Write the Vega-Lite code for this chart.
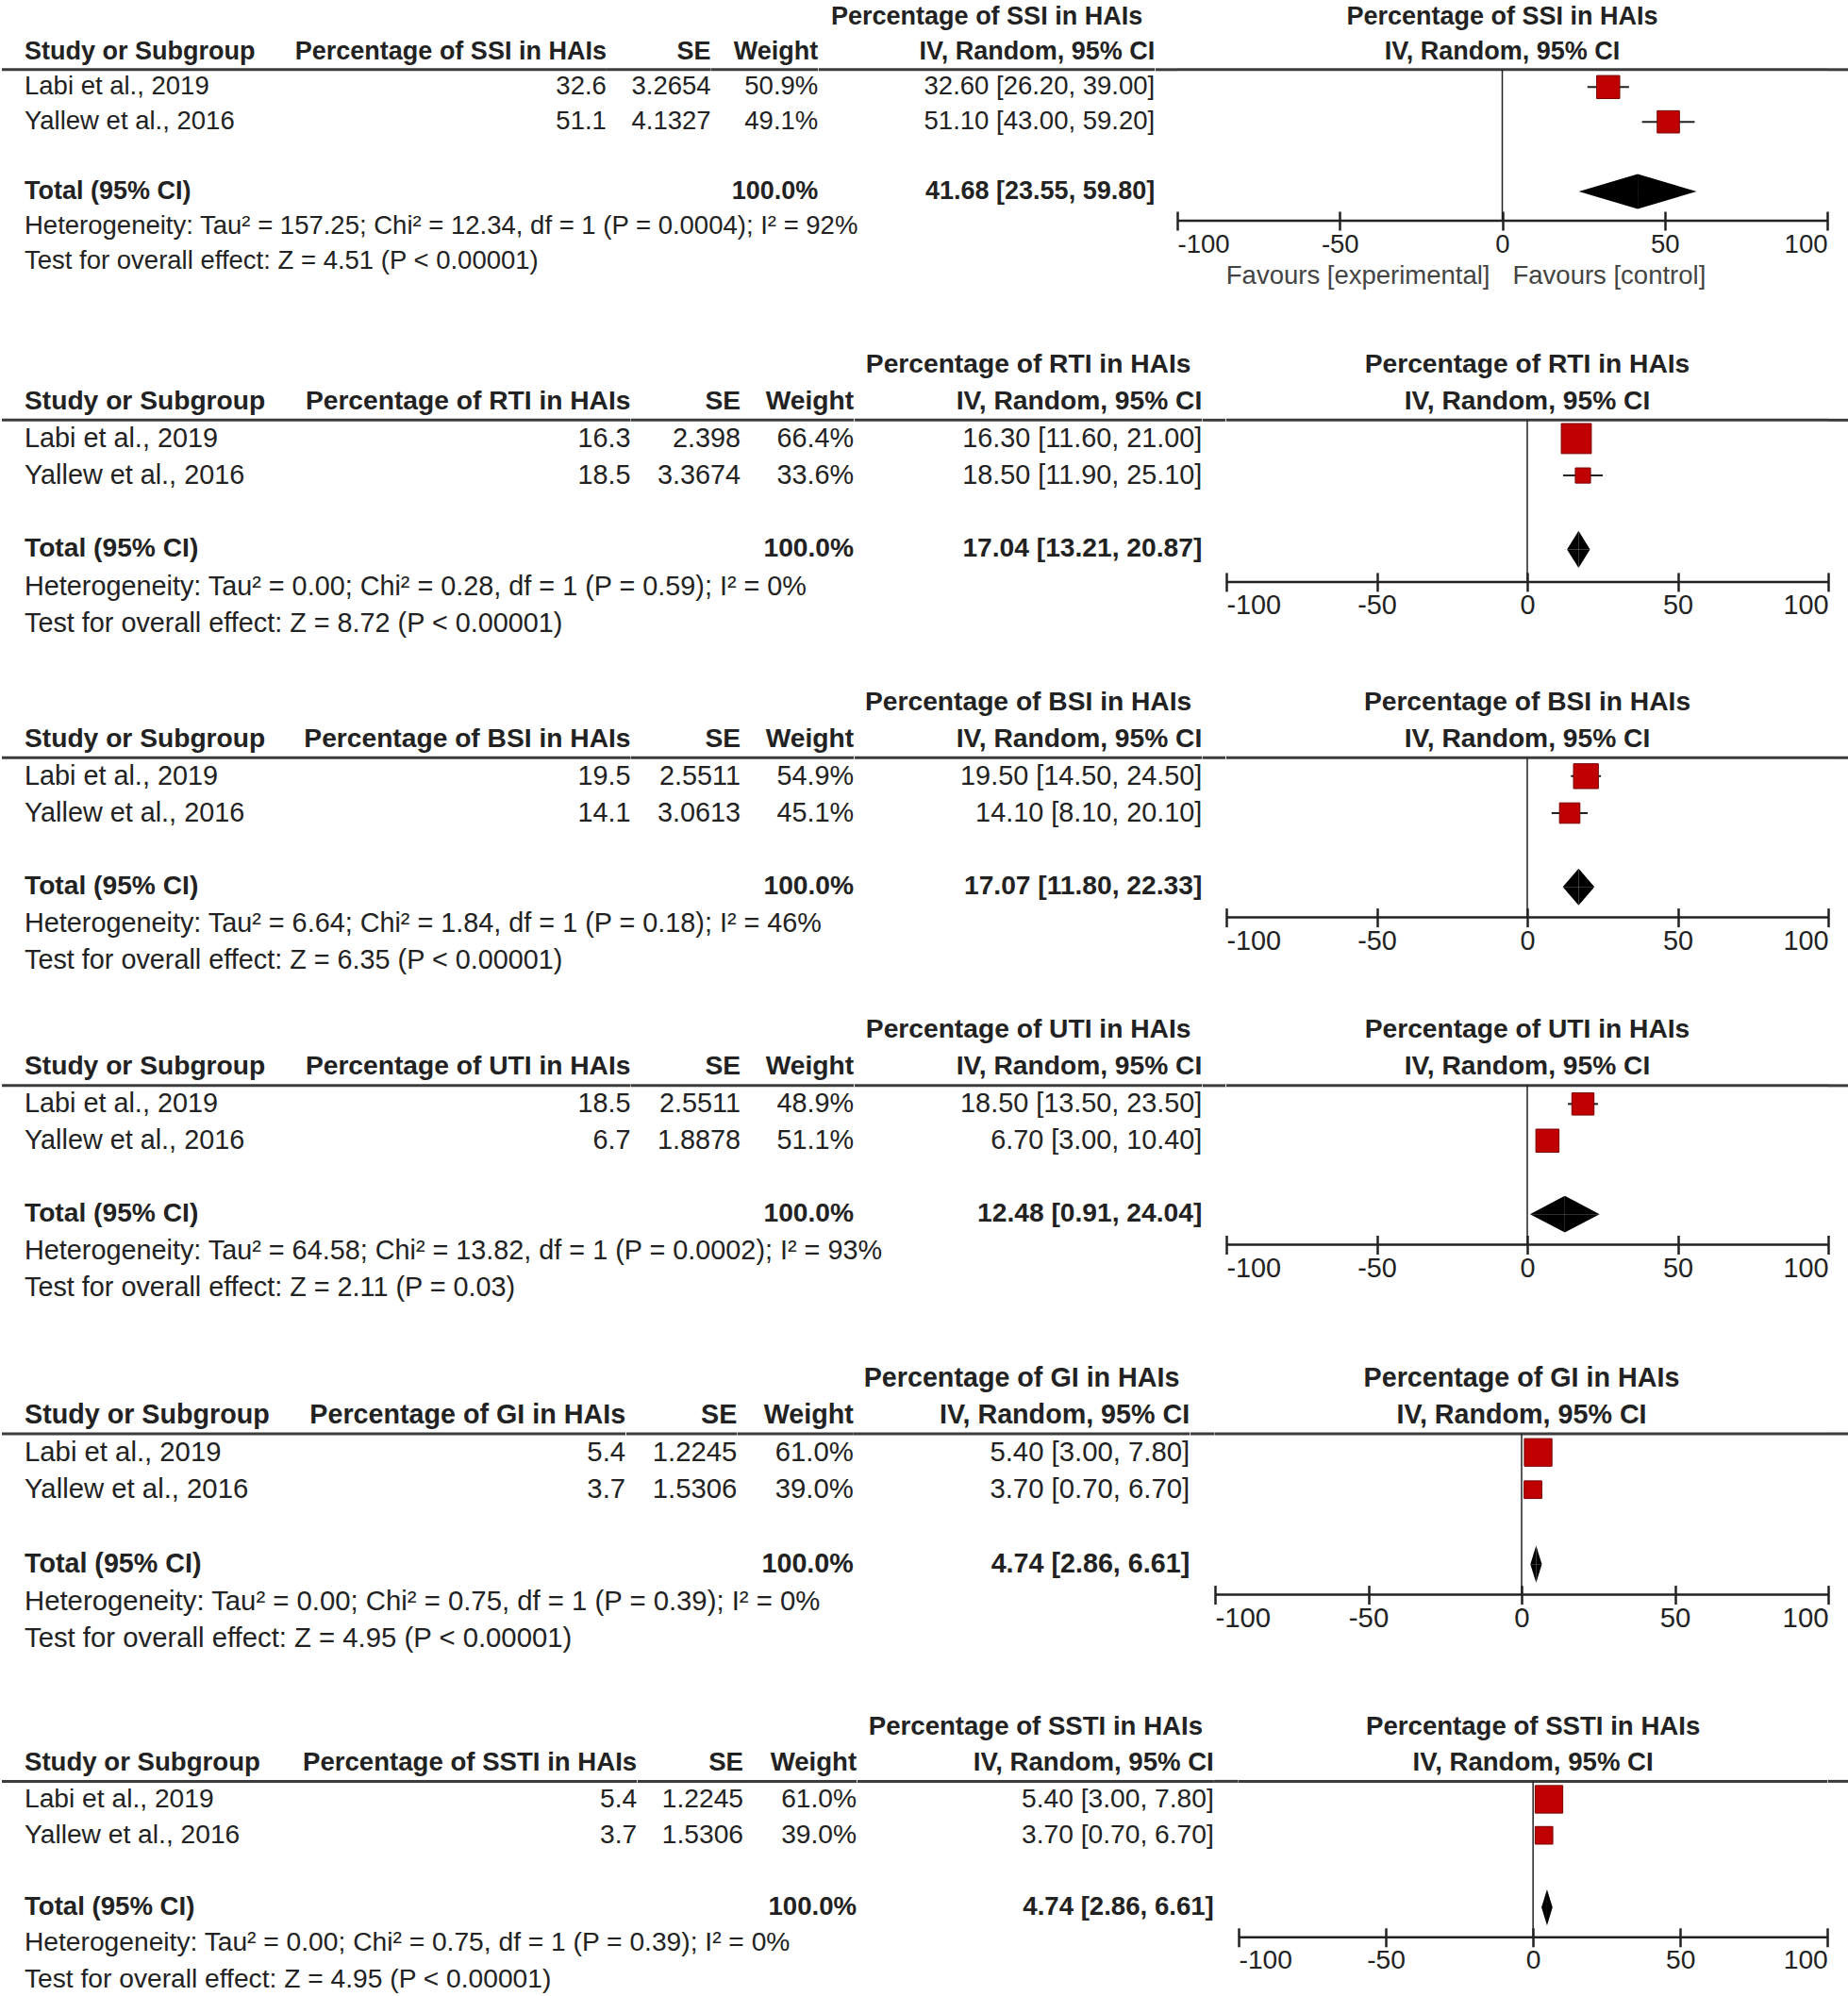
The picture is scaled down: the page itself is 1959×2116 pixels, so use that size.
{
"$schema":"https://vega.github.io/schema/vega-lite/v6.json",
"padding":0,"background":"white","spacing":0,"bounds":"full",
"config":{"view":{"stroke":null},
 "text":{"font":"Liberation Sans","fontSize":27.5,"color":"#222","baseline":"middle"},
 "axisX":{"tickCount":5,"labelFlush":true,"labelFont":"Liberation Sans","labelFontSize":27.5,"labelColor":"#222","domainColor":"#222","domainWidth":2.5,"tickColor":"#222","tickWidth":2.5,"tickSize":10,"labelPadding":1,"grid":false,"labelOverlap":false,"title":null}},
"datasets":{
"p1":[{"row":"h1","kind":"header","ci":"Percentage of SSI in HAIs"},{"row":"h2","kind":"header","study":"Study or Subgroup","value":"Percentage of SSI in HAIs","se":"SE","weight":"Weight","ci":"IV, Random, 95% CI"},{"row":"s1","kind":"study","study":"Labi et al., 2019","est":32.6,"se":3.2654,"w":0.509,"ci":"32.60 [26.20, 39.00]","lo":26.2,"hi":39.0},{"row":"s2","kind":"study","study":"Yallew et al., 2016","est":51.1,"se":4.1327,"w":0.491,"ci":"51.10 [43.00, 59.20]","lo":43.0,"hi":59.2},{"row":"total","kind":"total","study":"Total (95% CI)","w":1,"ci":"41.68 [23.55, 59.80]","est":41.68,"lo":23.55,"hi":59.8},{"row":"het","kind":"note","study":"Heterogeneity: Tau² = 157.25; Chi² = 12.34, df = 1 (P = 0.0004); I² = 92%"},{"row":"test","kind":"note","study":"Test for overall effect: Z = 4.51 (P < 0.00001)"}],
"p2":[{"row":"h1","kind":"header","ci":"Percentage of RTI in HAIs"},{"row":"h2","kind":"header","study":"Study or Subgroup","value":"Percentage of RTI in HAIs","se":"SE","weight":"Weight","ci":"IV, Random, 95% CI"},{"row":"s1","kind":"study","study":"Labi et al., 2019","est":16.3,"se":2.398,"w":0.664,"ci":"16.30 [11.60, 21.00]","lo":11.6,"hi":21.0},{"row":"s2","kind":"study","study":"Yallew et al., 2016","est":18.5,"se":3.3674,"w":0.336,"ci":"18.50 [11.90, 25.10]","lo":11.9,"hi":25.1},{"row":"total","kind":"total","study":"Total (95% CI)","w":1,"ci":"17.04 [13.21, 20.87]","est":17.04,"lo":13.21,"hi":20.87},{"row":"het","kind":"note","study":"Heterogeneity: Tau² = 0.00; Chi² = 0.28, df = 1 (P = 0.59); I² = 0%"},{"row":"test","kind":"note","study":"Test for overall effect: Z = 8.72 (P < 0.00001)"}],
"p3":[{"row":"h1","kind":"header","ci":"Percentage of BSI in HAIs"},{"row":"h2","kind":"header","study":"Study or Subgroup","value":"Percentage of BSI in HAIs","se":"SE","weight":"Weight","ci":"IV, Random, 95% CI"},{"row":"s1","kind":"study","study":"Labi et al., 2019","est":19.5,"se":2.5511,"w":0.549,"ci":"19.50 [14.50, 24.50]","lo":14.5,"hi":24.5},{"row":"s2","kind":"study","study":"Yallew et al., 2016","est":14.1,"se":3.0613,"w":0.451,"ci":"14.10 [8.10, 20.10]","lo":8.1,"hi":20.1},{"row":"total","kind":"total","study":"Total (95% CI)","w":1,"ci":"17.07 [11.80, 22.33]","est":17.07,"lo":11.8,"hi":22.33},{"row":"het","kind":"note","study":"Heterogeneity: Tau² = 6.64; Chi² = 1.84, df = 1 (P = 0.18); I² = 46%"},{"row":"test","kind":"note","study":"Test for overall effect: Z = 6.35 (P < 0.00001)"}],
"p4":[{"row":"h1","kind":"header","ci":"Percentage of UTI in HAIs"},{"row":"h2","kind":"header","study":"Study or Subgroup","value":"Percentage of UTI in HAIs","se":"SE","weight":"Weight","ci":"IV, Random, 95% CI"},{"row":"s1","kind":"study","study":"Labi et al., 2019","est":18.5,"se":2.5511,"w":0.489,"ci":"18.50 [13.50, 23.50]","lo":13.5,"hi":23.5},{"row":"s2","kind":"study","study":"Yallew et al., 2016","est":6.7,"se":1.8878,"w":0.511,"ci":"6.70 [3.00, 10.40]","lo":3.0,"hi":10.4},{"row":"total","kind":"total","study":"Total (95% CI)","w":1,"ci":"12.48 [0.91, 24.04]","est":12.48,"lo":0.91,"hi":24.04},{"row":"het","kind":"note","study":"Heterogeneity: Tau² = 64.58; Chi² = 13.82, df = 1 (P = 0.0002); I² = 93%"},{"row":"test","kind":"note","study":"Test for overall effect: Z = 2.11 (P = 0.03)"}],
"p5":[{"row":"h1","kind":"header","ci":"Percentage of GI in HAIs"},{"row":"h2","kind":"header","study":"Study or Subgroup","value":"Percentage of GI in HAIs","se":"SE","weight":"Weight","ci":"IV, Random, 95% CI"},{"row":"s1","kind":"study","study":"Labi et al., 2019","est":5.4,"se":1.2245,"w":0.61,"ci":"5.40 [3.00, 7.80]","lo":3.0,"hi":7.8},{"row":"s2","kind":"study","study":"Yallew et al., 2016","est":3.7,"se":1.5306,"w":0.39,"ci":"3.70 [0.70, 6.70]","lo":0.7,"hi":6.7},{"row":"total","kind":"total","study":"Total (95% CI)","w":1,"ci":"4.74 [2.86, 6.61]","est":4.74,"lo":2.86,"hi":6.61},{"row":"het","kind":"note","study":"Heterogeneity: Tau² = 0.00; Chi² = 0.75, df = 1 (P = 0.39); I² = 0%"},{"row":"test","kind":"note","study":"Test for overall effect: Z = 4.95 (P < 0.00001)"}],
"p6":[{"row":"h1","kind":"header","ci":"Percentage of SSTI in HAIs"},{"row":"h2","kind":"header","study":"Study or Subgroup","value":"Percentage of SSTI in HAIs","se":"SE","weight":"Weight","ci":"IV, Random, 95% CI"},{"row":"s1","kind":"study","study":"Labi et al., 2019","est":5.4,"se":1.2245,"w":0.61,"ci":"5.40 [3.00, 7.80]","lo":3.0,"hi":7.8},{"row":"s2","kind":"study","study":"Yallew et al., 2016","est":3.7,"se":1.5306,"w":0.39,"ci":"3.70 [0.70, 6.70]","lo":0.7,"hi":6.7},{"row":"total","kind":"total","study":"Total (95% CI)","w":1,"ci":"4.74 [2.86, 6.61]","est":4.74,"lo":2.86,"hi":6.61},{"row":"het","kind":"note","study":"Heterogeneity: Tau² = 0.00; Chi² = 0.75, df = 1 (P = 0.39); I² = 0%"},{"row":"test","kind":"note","study":"Test for overall effect: Z = 4.95 (P < 0.00001)"}]
},
"vconcat":[
{"spacing":0,"bounds":"flush","hconcat":[
 {"width":300,"height":366.67,"data":{"name":"p1"},"encoding":{"y":{"field":"row","type":"nominal","scale":{"type":"band","domain":["h1","h2","s1","s2","gap","total","het","test"],"paddingInner":0,"paddingOuter":0.967,"align":0},"axis":null}},"layer":[
  {"transform":[{"filter":"datum.row === 's1'"}],"mark":{"type":"rule","color":"#3c3c3c","strokeWidth":3},"encoding":{"y":{"field":"row","type":"nominal","bandPosition":0,"scale":{"type":"band","domain":["h1","h2","s1","s2","gap","total","het","test"],"paddingInner":0,"paddingOuter":0.967,"align":0},"axis":null}}},
  {"transform":[{"filter":"datum.kind === 'study' || datum.kind === 'note'"}],"mark":{"type":"text","align":"left","dx":24,"fontSize":27.5},"encoding":{"x":{"value":0},"text":{"field":"study","type":"nominal"}}},
  {"transform":[{"filter":"datum.study != null && (datum.kind === 'header' || datum.kind === 'total')"}],"mark":{"type":"text","align":"left","dx":24,"fontWeight":"bold","fontSize":27},"encoding":{"x":{"value":0},"text":{"field":"study","type":"nominal"}}}]},
 {"width":340.9,"height":366.67,"data":{"name":"p1"},"encoding":{"y":{"field":"row","type":"nominal","scale":{"type":"band","domain":["h1","h2","s1","s2","gap","total","het","test"],"paddingInner":0,"paddingOuter":0.967,"align":0},"axis":null}},"layer":[
  {"transform":[{"filter":"datum.row === 's1'"}],"mark":{"type":"rule","color":"#3c3c3c","strokeWidth":3},"encoding":{"y":{"field":"row","type":"nominal","bandPosition":0,"scale":{"type":"band","domain":["h1","h2","s1","s2","gap","total","het","test"],"paddingInner":0,"paddingOuter":0.967,"align":0},"axis":null}}},
  {"transform":[{"filter":"datum.kind === 'study'"}],"mark":{"type":"text","align":"right","fontSize":27.5},"encoding":{"x":{"value":"width"},"text":{"field":"est","type":"quantitative","format":".1f"}}},
  {"transform":[{"filter":"datum.row === 'h2'"}],"mark":{"type":"text","align":"right","fontWeight":"bold","fontSize":27},"encoding":{"x":{"value":"width"},"text":{"field":"value","type":"nominal"}}}]},
 {"width":110.6,"height":366.67,"data":{"name":"p1"},"encoding":{"y":{"field":"row","type":"nominal","scale":{"type":"band","domain":["h1","h2","s1","s2","gap","total","het","test"],"paddingInner":0,"paddingOuter":0.967,"align":0},"axis":null}},"layer":[
  {"transform":[{"filter":"datum.row === 's1'"}],"mark":{"type":"rule","color":"#3c3c3c","strokeWidth":3},"encoding":{"y":{"field":"row","type":"nominal","bandPosition":0,"scale":{"type":"band","domain":["h1","h2","s1","s2","gap","total","het","test"],"paddingInner":0,"paddingOuter":0.967,"align":0},"axis":null}}},
  {"transform":[{"filter":"datum.kind === 'study'"}],"mark":{"type":"text","align":"right","fontSize":27.5},"encoding":{"x":{"value":"width"},"text":{"field":"se","type":"nominal"}}},
  {"transform":[{"filter":"datum.row === 'h2'"}],"mark":{"type":"text","align":"right","fontWeight":"bold","fontSize":27},"encoding":{"x":{"value":"width"},"text":{"field":"se","type":"nominal"}}}]},
 {"width":113.3,"height":366.67,"data":{"name":"p1"},"encoding":{"y":{"field":"row","type":"nominal","scale":{"type":"band","domain":["h1","h2","s1","s2","gap","total","het","test"],"paddingInner":0,"paddingOuter":0.967,"align":0},"axis":null}},"layer":[
  {"transform":[{"filter":"datum.row === 's1'"}],"mark":{"type":"rule","color":"#3c3c3c","strokeWidth":3},"encoding":{"y":{"field":"row","type":"nominal","bandPosition":0,"scale":{"type":"band","domain":["h1","h2","s1","s2","gap","total","het","test"],"paddingInner":0,"paddingOuter":0.967,"align":0},"axis":null}}},
  {"transform":[{"filter":"datum.kind === 'study'"}],"mark":{"type":"text","align":"right","fontSize":27.5},"encoding":{"x":{"value":"width"},"text":{"field":"w","type":"quantitative","format":".1%"}}},
  {"transform":[{"filter":"datum.row === 'h2'"}],"mark":{"type":"text","align":"right","fontWeight":"bold","fontSize":27},"encoding":{"x":{"value":"width"},"text":{"field":"weight","type":"nominal"}}},
  {"transform":[{"filter":"datum.kind === 'total'"}],"mark":{"type":"text","align":"right","fontWeight":"bold","fontSize":27},"encoding":{"x":{"value":"width"},"text":{"field":"w","type":"quantitative","format":".1%"}}}]},
 {"width":356.2,"height":366.67,"data":{"name":"p1"},"encoding":{"y":{"field":"row","type":"nominal","scale":{"type":"band","domain":["h1","h2","s1","s2","gap","total","het","test"],"paddingInner":0,"paddingOuter":0.967,"align":0},"axis":null}},"layer":[
  {"transform":[{"filter":"datum.row === 's1'"}],"mark":{"type":"rule","color":"#3c3c3c","strokeWidth":3},"encoding":{"y":{"field":"row","type":"nominal","bandPosition":0,"scale":{"type":"band","domain":["h1","h2","s1","s2","gap","total","het","test"],"paddingInner":0,"paddingOuter":0.967,"align":0},"axis":null}}},
  {"transform":[{"filter":"datum.kind === 'study'"}],"mark":{"type":"text","align":"right","fontSize":27.5},"encoding":{"x":{"value":"width"},"text":{"field":"ci","type":"nominal"}}},
  {"transform":[{"filter":"datum.row === 'h2' || datum.kind === 'total'"}],"mark":{"type":"text","align":"right","fontWeight":"bold","fontSize":27},"encoding":{"x":{"value":"width"},"text":{"field":"ci","type":"nominal"}}},
  {"transform":[{"filter":"datum.row === 'h1'"}],"mark":{"type":"text","align":"center","fontWeight":"bold","fontSize":27},"encoding":{"text":{"field":"ci","type":"nominal"}}}]},
 {"width":23,"height":366.67,"data":{"name":"p1"},"transform":[{"filter":"datum.row === 's1'"}],"mark":{"type":"rule","color":"#3c3c3c","strokeWidth":3},"encoding":{"y":{"field":"row","type":"nominal","bandPosition":0,"scale":{"type":"band","domain":["h1","h2","s1","s2","gap","total","het","test"],"paddingInner":0,"paddingOuter":0.967,"align":0},"axis":null}}},
 {"width":689,"height":234.0,"data":{"name":"p1"},"resolve":{"scale":{"yOffset":"independent"}},"encoding":{"y":{"field":"row","type":"nominal","scale":{"type":"band","domain":["h1","h2","s1","s2","gap","total"],"paddingInner":0,"paddingOuter":0.17,"align":0},"axis":null}},"layer":[
  {"transform":[{"filter":"datum.row === 's1'"}],"mark":{"type":"rule","color":"#3c3c3c","strokeWidth":3},"encoding":{"y":{"field":"row","type":"nominal","bandPosition":0}}},
  {"transform":[{"filter":"datum.row === 's1'"}],"mark":{"type":"rule","color":"#222","strokeWidth":1.5},"encoding":{"x":{"datum":0,"type":"quantitative","scale":{"domain":[-100,100],"nice":false},"axis":{"labelExpr":"replace(datum.label, '−', '-')","labelFontSize":27.5,"domain":false,"offset":-10,"tickSize":20}},"y":{"field":"row","type":"nominal","bandPosition":0},"y2":{"value":"height"}}},
  {"transform":[{"filter":"datum.row === 's1'"}],"mark":{"type":"rule","color":"#222","strokeWidth":2.5},"encoding":{"x":{"datum":-100,"type":"quantitative"},"x2":{"datum":100},"y":{"value":"height"}}},
  {"transform":[{"filter":"datum.kind === 'study'"}],"mark":{"type":"rule","color":"#222","strokeWidth":2},"encoding":{"x":{"field":"lo","type":"quantitative","title":null},"x2":{"field":"hi"}}},
  {"transform":[{"filter":"datum.kind === 'study'"}],"mark":{"type":"point","shape":"square","filled":true,"color":"#c00000","stroke":"#7a0000","strokeWidth":1,"opacity":1},"encoding":{"x":{"field":"est","type":"quantitative","title":null},"size":{"field":"w","type":"quantitative","scale":{"type":"pow","exponent":2,"domain":[0,1],"range":[0,2300]},"legend":null}}},
  {"transform":[{"filter":"datum.kind === 'total'"},{"fold":["lo","est"],"as":["key","v"]}],"mark":{"type":"area","color":"#000","opacity":1},"encoding":{"x":{"field":"v","type":"quantitative","title":null},"yOffset":{"field":"key","type":"nominal","scale":{"domain":["est","lo","hi"],"paddingInner":0.5,"paddingOuter":0}},"y2":{"field":"row"}}},
  {"transform":[{"filter":"datum.kind === 'total'"},{"fold":["est","hi"],"as":["key","v"]}],"mark":{"type":"area","color":"#000","opacity":1},"encoding":{"x":{"field":"v","type":"quantitative","title":null},"yOffset":{"field":"key","type":"nominal","scale":{"domain":["est","hi","lo"],"paddingInner":0.5,"paddingOuter":0}},"y2":{"field":"row"}}},
  {"transform":[{"filter":"datum.kind === 'total'"},{"fold":["lo","est"],"as":["key","v"]}],"mark":{"type":"area","color":"#000","opacity":1},"encoding":{"x":{"field":"v","type":"quantitative","title":null},"yOffset":{"field":"key","type":"nominal","scale":{"domain":["hi","lo","est"],"paddingInner":0.5,"paddingOuter":0}},"y2":{"field":"row"}}},
  {"transform":[{"filter":"datum.kind === 'total'"},{"fold":["est","hi"],"as":["key","v"]}],"mark":{"type":"area","color":"#000","opacity":1},"encoding":{"x":{"field":"v","type":"quantitative","title":null},"yOffset":{"field":"key","type":"nominal","scale":{"domain":["lo","hi","est"],"paddingInner":0.5,"paddingOuter":0}},"y2":{"field":"row"}}},
  {"transform":[{"filter":"datum.kind === 'header'"}],"mark":{"type":"text","fontWeight":"bold","fontSize":27},"encoding":{"text":{"field":"ci","type":"nominal"}}},
  {"data":{"values":[{"label":"Favours [experimental]"}]},"mark":{"type":"text","align":"right","dx":-13,"dy":59,"color":"#444","fontSize":27.5},"encoding":{"x":{"datum":0,"type":"quantitative"},"y":{"value":"height"},"text":{"field":"label","type":"nominal"}}},
  {"data":{"values":[{"label":"Favours [control]"}]},"mark":{"type":"text","align":"left","dx":11,"dy":59,"color":"#444","fontSize":27.5},"encoding":{"x":{"datum":0,"type":"quantitative"},"y":{"value":"height"},"text":{"field":"label","type":"nominal"}}}]},
 {"width":26,"height":366.67,"data":{"name":"p1"},"transform":[{"filter":"datum.row === 's1'"}],"mark":{"type":"rule","color":"#3c3c3c","strokeWidth":3},"encoding":{"y":{"field":"row","type":"nominal","bandPosition":0,"scale":{"type":"band","domain":["h1","h2","s1","s2","gap","total","het","test"],"paddingInner":0,"paddingOuter":0.967,"align":0},"axis":null}}}
]},
{"spacing":0,"bounds":"flush","hconcat":[
 {"width":300,"height":357.16,"data":{"name":"p2"},"encoding":{"y":{"field":"row","type":"nominal","scale":{"type":"band","domain":["h1","h2","s1","s2","gap","total","het","test"],"paddingInner":0,"paddingOuter":0.558,"align":0},"axis":null}},"layer":[
  {"transform":[{"filter":"datum.row === 's1'"}],"mark":{"type":"rule","color":"#3c3c3c","strokeWidth":3},"encoding":{"y":{"field":"row","type":"nominal","bandPosition":0,"scale":{"type":"band","domain":["h1","h2","s1","s2","gap","total","het","test"],"paddingInner":0,"paddingOuter":0.558,"align":0},"axis":null}}},
  {"transform":[{"filter":"datum.kind === 'study' || datum.kind === 'note'"}],"mark":{"type":"text","align":"left","dx":24,"fontSize":28.8},"encoding":{"x":{"value":0},"text":{"field":"study","type":"nominal"}}},
  {"transform":[{"filter":"datum.study != null && (datum.kind === 'header' || datum.kind === 'total')"}],"mark":{"type":"text","align":"left","dx":24,"fontWeight":"bold","fontSize":28.2},"encoding":{"x":{"value":0},"text":{"field":"study","type":"nominal"}}}]},
 {"width":366.5,"height":357.16,"data":{"name":"p2"},"encoding":{"y":{"field":"row","type":"nominal","scale":{"type":"band","domain":["h1","h2","s1","s2","gap","total","het","test"],"paddingInner":0,"paddingOuter":0.558,"align":0},"axis":null}},"layer":[
  {"transform":[{"filter":"datum.row === 's1'"}],"mark":{"type":"rule","color":"#3c3c3c","strokeWidth":3},"encoding":{"y":{"field":"row","type":"nominal","bandPosition":0,"scale":{"type":"band","domain":["h1","h2","s1","s2","gap","total","het","test"],"paddingInner":0,"paddingOuter":0.558,"align":0},"axis":null}}},
  {"transform":[{"filter":"datum.kind === 'study'"}],"mark":{"type":"text","align":"right","fontSize":28.8},"encoding":{"x":{"value":"width"},"text":{"field":"est","type":"quantitative","format":".1f"}}},
  {"transform":[{"filter":"datum.row === 'h2'"}],"mark":{"type":"text","align":"right","fontWeight":"bold","fontSize":28.2},"encoding":{"x":{"value":"width"},"text":{"field":"value","type":"nominal"}}}]},
 {"width":116,"height":357.16,"data":{"name":"p2"},"encoding":{"y":{"field":"row","type":"nominal","scale":{"type":"band","domain":["h1","h2","s1","s2","gap","total","het","test"],"paddingInner":0,"paddingOuter":0.558,"align":0},"axis":null}},"layer":[
  {"transform":[{"filter":"datum.row === 's1'"}],"mark":{"type":"rule","color":"#3c3c3c","strokeWidth":3},"encoding":{"y":{"field":"row","type":"nominal","bandPosition":0,"scale":{"type":"band","domain":["h1","h2","s1","s2","gap","total","het","test"],"paddingInner":0,"paddingOuter":0.558,"align":0},"axis":null}}},
  {"transform":[{"filter":"datum.kind === 'study'"}],"mark":{"type":"text","align":"right","fontSize":28.8},"encoding":{"x":{"value":"width"},"text":{"field":"se","type":"nominal"}}},
  {"transform":[{"filter":"datum.row === 'h2'"}],"mark":{"type":"text","align":"right","fontWeight":"bold","fontSize":28.2},"encoding":{"x":{"value":"width"},"text":{"field":"se","type":"nominal"}}}]},
 {"width":120.1,"height":357.16,"data":{"name":"p2"},"encoding":{"y":{"field":"row","type":"nominal","scale":{"type":"band","domain":["h1","h2","s1","s2","gap","total","het","test"],"paddingInner":0,"paddingOuter":0.558,"align":0},"axis":null}},"layer":[
  {"transform":[{"filter":"datum.row === 's1'"}],"mark":{"type":"rule","color":"#3c3c3c","strokeWidth":3},"encoding":{"y":{"field":"row","type":"nominal","bandPosition":0,"scale":{"type":"band","domain":["h1","h2","s1","s2","gap","total","het","test"],"paddingInner":0,"paddingOuter":0.558,"align":0},"axis":null}}},
  {"transform":[{"filter":"datum.kind === 'study'"}],"mark":{"type":"text","align":"right","fontSize":28.8},"encoding":{"x":{"value":"width"},"text":{"field":"w","type":"quantitative","format":".1%"}}},
  {"transform":[{"filter":"datum.row === 'h2'"}],"mark":{"type":"text","align":"right","fontWeight":"bold","fontSize":28.2},"encoding":{"x":{"value":"width"},"text":{"field":"weight","type":"nominal"}}},
  {"transform":[{"filter":"datum.kind === 'total'"}],"mark":{"type":"text","align":"right","fontWeight":"bold","fontSize":28.2},"encoding":{"x":{"value":"width"},"text":{"field":"w","type":"quantitative","format":".1%"}}}]},
 {"width":368.3,"height":357.16,"data":{"name":"p2"},"encoding":{"y":{"field":"row","type":"nominal","scale":{"type":"band","domain":["h1","h2","s1","s2","gap","total","het","test"],"paddingInner":0,"paddingOuter":0.558,"align":0},"axis":null}},"layer":[
  {"transform":[{"filter":"datum.row === 's1'"}],"mark":{"type":"rule","color":"#3c3c3c","strokeWidth":3},"encoding":{"y":{"field":"row","type":"nominal","bandPosition":0,"scale":{"type":"band","domain":["h1","h2","s1","s2","gap","total","het","test"],"paddingInner":0,"paddingOuter":0.558,"align":0},"axis":null}}},
  {"transform":[{"filter":"datum.kind === 'study'"}],"mark":{"type":"text","align":"right","fontSize":28.8},"encoding":{"x":{"value":"width"},"text":{"field":"ci","type":"nominal"}}},
  {"transform":[{"filter":"datum.row === 'h2' || datum.kind === 'total'"}],"mark":{"type":"text","align":"right","fontWeight":"bold","fontSize":28.2},"encoding":{"x":{"value":"width"},"text":{"field":"ci","type":"nominal"}}},
  {"transform":[{"filter":"datum.row === 'h1'"}],"mark":{"type":"text","align":"center","fontWeight":"bold","fontSize":28.2},"encoding":{"text":{"field":"ci","type":"nominal"}}}]},
 {"width":24.1,"height":357.16,"data":{"name":"p2"},"transform":[{"filter":"datum.row === 's1'"}],"mark":{"type":"rule","color":"#3c3c3c","strokeWidth":3},"encoding":{"y":{"field":"row","type":"nominal","bandPosition":0,"scale":{"type":"band","domain":["h1","h2","s1","s2","gap","total","het","test"],"paddingInner":0,"paddingOuter":0.558,"align":0},"axis":null}}},
 {"width":638,"height":249.9,"data":{"name":"p2"},"resolve":{"scale":{"yOffset":"independent"}},"encoding":{"y":{"field":"row","type":"nominal","scale":{"type":"band","domain":["h1","h2","s1","s2","gap","total"],"paddingInner":0,"paddingOuter":0.19,"align":0},"axis":null}},"layer":[
  {"transform":[{"filter":"datum.row === 's1'"}],"mark":{"type":"rule","color":"#3c3c3c","strokeWidth":3},"encoding":{"y":{"field":"row","type":"nominal","bandPosition":0}}},
  {"transform":[{"filter":"datum.row === 's1'"}],"mark":{"type":"rule","color":"#222","strokeWidth":1.5},"encoding":{"x":{"datum":0,"type":"quantitative","scale":{"domain":[-100,100],"nice":false},"axis":{"labelExpr":"replace(datum.label, '−', '-')","labelFontSize":28.8,"domain":false,"offset":-10,"tickSize":20}},"y":{"field":"row","type":"nominal","bandPosition":0},"y2":{"value":"height"}}},
  {"transform":[{"filter":"datum.row === 's1'"}],"mark":{"type":"rule","color":"#222","strokeWidth":2.5},"encoding":{"x":{"datum":-100,"type":"quantitative"},"x2":{"datum":100},"y":{"value":"height"}}},
  {"transform":[{"filter":"datum.kind === 'study'"}],"mark":{"type":"rule","color":"#222","strokeWidth":2},"encoding":{"x":{"field":"lo","type":"quantitative","title":null},"x2":{"field":"hi"}}},
  {"transform":[{"filter":"datum.kind === 'study'"}],"mark":{"type":"point","shape":"square","filled":true,"color":"#c00000","stroke":"#7a0000","strokeWidth":1,"opacity":1},"encoding":{"x":{"field":"est","type":"quantitative","title":null},"size":{"field":"w","type":"quantitative","scale":{"type":"pow","exponent":2,"domain":[0,1],"range":[0,2200]},"legend":null}}},
  {"transform":[{"filter":"datum.kind === 'total'"},{"fold":["lo","est"],"as":["key","v"]}],"mark":{"type":"area","color":"#000","opacity":1},"encoding":{"x":{"field":"v","type":"quantitative","title":null},"yOffset":{"field":"key","type":"nominal","scale":{"domain":["est","lo","hi"],"paddingInner":0.5,"paddingOuter":0}},"y2":{"field":"row"}}},
  {"transform":[{"filter":"datum.kind === 'total'"},{"fold":["est","hi"],"as":["key","v"]}],"mark":{"type":"area","color":"#000","opacity":1},"encoding":{"x":{"field":"v","type":"quantitative","title":null},"yOffset":{"field":"key","type":"nominal","scale":{"domain":["est","hi","lo"],"paddingInner":0.5,"paddingOuter":0}},"y2":{"field":"row"}}},
  {"transform":[{"filter":"datum.kind === 'total'"},{"fold":["lo","est"],"as":["key","v"]}],"mark":{"type":"area","color":"#000","opacity":1},"encoding":{"x":{"field":"v","type":"quantitative","title":null},"yOffset":{"field":"key","type":"nominal","scale":{"domain":["hi","lo","est"],"paddingInner":0.5,"paddingOuter":0}},"y2":{"field":"row"}}},
  {"transform":[{"filter":"datum.kind === 'total'"},{"fold":["est","hi"],"as":["key","v"]}],"mark":{"type":"area","color":"#000","opacity":1},"encoding":{"x":{"field":"v","type":"quantitative","title":null},"yOffset":{"field":"key","type":"nominal","scale":{"domain":["lo","hi","est"],"paddingInner":0.5,"paddingOuter":0}},"y2":{"field":"row"}}},
  {"transform":[{"filter":"datum.kind === 'header'"}],"mark":{"type":"text","fontWeight":"bold","fontSize":28.2},"encoding":{"text":{"field":"ci","type":"nominal"}}}]},
 {"width":26,"height":357.16,"data":{"name":"p2"},"transform":[{"filter":"datum.row === 's1'"}],"mark":{"type":"rule","color":"#3c3c3c","strokeWidth":3},"encoding":{"y":{"field":"row","type":"nominal","bandPosition":0,"scale":{"type":"band","domain":["h1","h2","s1","s2","gap","total","het","test"],"paddingInner":0,"paddingOuter":0.558,"align":0},"axis":null}}}
]},
{"spacing":0,"bounds":"flush","hconcat":[
 {"width":300,"height":347.92,"data":{"name":"p3"},"encoding":{"y":{"field":"row","type":"nominal","scale":{"type":"band","domain":["h1","h2","s1","s2","gap","total","het","test"],"paddingInner":0,"paddingOuter":0.4455,"align":0},"axis":null}},"layer":[
  {"transform":[{"filter":"datum.row === 's1'"}],"mark":{"type":"rule","color":"#3c3c3c","strokeWidth":3},"encoding":{"y":{"field":"row","type":"nominal","bandPosition":0,"scale":{"type":"band","domain":["h1","h2","s1","s2","gap","total","het","test"],"paddingInner":0,"paddingOuter":0.4455,"align":0},"axis":null}}},
  {"transform":[{"filter":"datum.kind === 'study' || datum.kind === 'note'"}],"mark":{"type":"text","align":"left","dx":24,"fontSize":28.8},"encoding":{"x":{"value":0},"text":{"field":"study","type":"nominal"}}},
  {"transform":[{"filter":"datum.study != null && (datum.kind === 'header' || datum.kind === 'total')"}],"mark":{"type":"text","align":"left","dx":24,"fontWeight":"bold","fontSize":28.2},"encoding":{"x":{"value":0},"text":{"field":"study","type":"nominal"}}}]},
 {"width":366.5,"height":347.92,"data":{"name":"p3"},"encoding":{"y":{"field":"row","type":"nominal","scale":{"type":"band","domain":["h1","h2","s1","s2","gap","total","het","test"],"paddingInner":0,"paddingOuter":0.4455,"align":0},"axis":null}},"layer":[
  {"transform":[{"filter":"datum.row === 's1'"}],"mark":{"type":"rule","color":"#3c3c3c","strokeWidth":3},"encoding":{"y":{"field":"row","type":"nominal","bandPosition":0,"scale":{"type":"band","domain":["h1","h2","s1","s2","gap","total","het","test"],"paddingInner":0,"paddingOuter":0.4455,"align":0},"axis":null}}},
  {"transform":[{"filter":"datum.kind === 'study'"}],"mark":{"type":"text","align":"right","fontSize":28.8},"encoding":{"x":{"value":"width"},"text":{"field":"est","type":"quantitative","format":".1f"}}},
  {"transform":[{"filter":"datum.row === 'h2'"}],"mark":{"type":"text","align":"right","fontWeight":"bold","fontSize":28.2},"encoding":{"x":{"value":"width"},"text":{"field":"value","type":"nominal"}}}]},
 {"width":116,"height":347.92,"data":{"name":"p3"},"encoding":{"y":{"field":"row","type":"nominal","scale":{"type":"band","domain":["h1","h2","s1","s2","gap","total","het","test"],"paddingInner":0,"paddingOuter":0.4455,"align":0},"axis":null}},"layer":[
  {"transform":[{"filter":"datum.row === 's1'"}],"mark":{"type":"rule","color":"#3c3c3c","strokeWidth":3},"encoding":{"y":{"field":"row","type":"nominal","bandPosition":0,"scale":{"type":"band","domain":["h1","h2","s1","s2","gap","total","het","test"],"paddingInner":0,"paddingOuter":0.4455,"align":0},"axis":null}}},
  {"transform":[{"filter":"datum.kind === 'study'"}],"mark":{"type":"text","align":"right","fontSize":28.8},"encoding":{"x":{"value":"width"},"text":{"field":"se","type":"nominal"}}},
  {"transform":[{"filter":"datum.row === 'h2'"}],"mark":{"type":"text","align":"right","fontWeight":"bold","fontSize":28.2},"encoding":{"x":{"value":"width"},"text":{"field":"se","type":"nominal"}}}]},
 {"width":120.1,"height":347.92,"data":{"name":"p3"},"encoding":{"y":{"field":"row","type":"nominal","scale":{"type":"band","domain":["h1","h2","s1","s2","gap","total","het","test"],"paddingInner":0,"paddingOuter":0.4455,"align":0},"axis":null}},"layer":[
  {"transform":[{"filter":"datum.row === 's1'"}],"mark":{"type":"rule","color":"#3c3c3c","strokeWidth":3},"encoding":{"y":{"field":"row","type":"nominal","bandPosition":0,"scale":{"type":"band","domain":["h1","h2","s1","s2","gap","total","het","test"],"paddingInner":0,"paddingOuter":0.4455,"align":0},"axis":null}}},
  {"transform":[{"filter":"datum.kind === 'study'"}],"mark":{"type":"text","align":"right","fontSize":28.8},"encoding":{"x":{"value":"width"},"text":{"field":"w","type":"quantitative","format":".1%"}}},
  {"transform":[{"filter":"datum.row === 'h2'"}],"mark":{"type":"text","align":"right","fontWeight":"bold","fontSize":28.2},"encoding":{"x":{"value":"width"},"text":{"field":"weight","type":"nominal"}}},
  {"transform":[{"filter":"datum.kind === 'total'"}],"mark":{"type":"text","align":"right","fontWeight":"bold","fontSize":28.2},"encoding":{"x":{"value":"width"},"text":{"field":"w","type":"quantitative","format":".1%"}}}]},
 {"width":368.3,"height":347.92,"data":{"name":"p3"},"encoding":{"y":{"field":"row","type":"nominal","scale":{"type":"band","domain":["h1","h2","s1","s2","gap","total","het","test"],"paddingInner":0,"paddingOuter":0.4455,"align":0},"axis":null}},"layer":[
  {"transform":[{"filter":"datum.row === 's1'"}],"mark":{"type":"rule","color":"#3c3c3c","strokeWidth":3},"encoding":{"y":{"field":"row","type":"nominal","bandPosition":0,"scale":{"type":"band","domain":["h1","h2","s1","s2","gap","total","het","test"],"paddingInner":0,"paddingOuter":0.4455,"align":0},"axis":null}}},
  {"transform":[{"filter":"datum.kind === 'study'"}],"mark":{"type":"text","align":"right","fontSize":28.8},"encoding":{"x":{"value":"width"},"text":{"field":"ci","type":"nominal"}}},
  {"transform":[{"filter":"datum.row === 'h2' || datum.kind === 'total'"}],"mark":{"type":"text","align":"right","fontWeight":"bold","fontSize":28.2},"encoding":{"x":{"value":"width"},"text":{"field":"ci","type":"nominal"}}},
  {"transform":[{"filter":"datum.row === 'h1'"}],"mark":{"type":"text","align":"center","fontWeight":"bold","fontSize":28.2},"encoding":{"text":{"field":"ci","type":"nominal"}}}]},
 {"width":24.1,"height":347.92,"data":{"name":"p3"},"transform":[{"filter":"datum.row === 's1'"}],"mark":{"type":"rule","color":"#3c3c3c","strokeWidth":3},"encoding":{"y":{"field":"row","type":"nominal","bandPosition":0,"scale":{"type":"band","domain":["h1","h2","s1","s2","gap","total","het","test"],"paddingInner":0,"paddingOuter":0.4455,"align":0},"axis":null}}},
 {"width":638,"height":247.6,"data":{"name":"p3"},"resolve":{"scale":{"yOffset":"independent"}},"encoding":{"y":{"field":"row","type":"nominal","scale":{"type":"band","domain":["h1","h2","s1","s2","gap","total"],"paddingInner":0,"paddingOuter":0.1635,"align":0},"axis":null}},"layer":[
  {"transform":[{"filter":"datum.row === 's1'"}],"mark":{"type":"rule","color":"#3c3c3c","strokeWidth":3},"encoding":{"y":{"field":"row","type":"nominal","bandPosition":0}}},
  {"transform":[{"filter":"datum.row === 's1'"}],"mark":{"type":"rule","color":"#222","strokeWidth":1.5},"encoding":{"x":{"datum":0,"type":"quantitative","scale":{"domain":[-100,100],"nice":false},"axis":{"labelExpr":"replace(datum.label, '−', '-')","labelFontSize":28.8,"domain":false,"offset":-10,"tickSize":20}},"y":{"field":"row","type":"nominal","bandPosition":0},"y2":{"value":"height"}}},
  {"transform":[{"filter":"datum.row === 's1'"}],"mark":{"type":"rule","color":"#222","strokeWidth":2.5},"encoding":{"x":{"datum":-100,"type":"quantitative"},"x2":{"datum":100},"y":{"value":"height"}}},
  {"transform":[{"filter":"datum.kind === 'study'"}],"mark":{"type":"rule","color":"#222","strokeWidth":2},"encoding":{"x":{"field":"lo","type":"quantitative","title":null},"x2":{"field":"hi"}}},
  {"transform":[{"filter":"datum.kind === 'study'"}],"mark":{"type":"point","shape":"square","filled":true,"color":"#c00000","stroke":"#7a0000","strokeWidth":1,"opacity":1},"encoding":{"x":{"field":"est","type":"quantitative","title":null},"size":{"field":"w","type":"quantitative","scale":{"type":"pow","exponent":2,"domain":[0,1],"range":[0,2200]},"legend":null}}},
  {"transform":[{"filter":"datum.kind === 'total'"},{"fold":["lo","est"],"as":["key","v"]}],"mark":{"type":"area","color":"#000","opacity":1},"encoding":{"x":{"field":"v","type":"quantitative","title":null},"yOffset":{"field":"key","type":"nominal","scale":{"domain":["est","lo","hi"],"paddingInner":0.5,"paddingOuter":0}},"y2":{"field":"row"}}},
  {"transform":[{"filter":"datum.kind === 'total'"},{"fold":["est","hi"],"as":["key","v"]}],"mark":{"type":"area","color":"#000","opacity":1},"encoding":{"x":{"field":"v","type":"quantitative","title":null},"yOffset":{"field":"key","type":"nominal","scale":{"domain":["est","hi","lo"],"paddingInner":0.5,"paddingOuter":0}},"y2":{"field":"row"}}},
  {"transform":[{"filter":"datum.kind === 'total'"},{"fold":["lo","est"],"as":["key","v"]}],"mark":{"type":"area","color":"#000","opacity":1},"encoding":{"x":{"field":"v","type":"quantitative","title":null},"yOffset":{"field":"key","type":"nominal","scale":{"domain":["hi","lo","est"],"paddingInner":0.5,"paddingOuter":0}},"y2":{"field":"row"}}},
  {"transform":[{"filter":"datum.kind === 'total'"},{"fold":["est","hi"],"as":["key","v"]}],"mark":{"type":"area","color":"#000","opacity":1},"encoding":{"x":{"field":"v","type":"quantitative","title":null},"yOffset":{"field":"key","type":"nominal","scale":{"domain":["lo","hi","est"],"paddingInner":0.5,"paddingOuter":0}},"y2":{"field":"row"}}},
  {"transform":[{"filter":"datum.kind === 'header'"}],"mark":{"type":"text","fontWeight":"bold","fontSize":28.2},"encoding":{"text":{"field":"ci","type":"nominal"}}}]},
 {"width":26,"height":347.92,"data":{"name":"p3"},"transform":[{"filter":"datum.row === 's1'"}],"mark":{"type":"rule","color":"#3c3c3c","strokeWidth":3},"encoding":{"y":{"field":"row","type":"nominal","bandPosition":0,"scale":{"type":"band","domain":["h1","h2","s1","s2","gap","total","het","test"],"paddingInner":0,"paddingOuter":0.4455,"align":0},"axis":null}}}
]},
{"spacing":0,"bounds":"flush","hconcat":[
 {"width":300,"height":367.87,"data":{"name":"p4"},"encoding":{"y":{"field":"row","type":"nominal","scale":{"type":"band","domain":["h1","h2","s1","s2","gap","total","het","test"],"paddingInner":0,"paddingOuter":0.7248,"align":0},"axis":null}},"layer":[
  {"transform":[{"filter":"datum.row === 's1'"}],"mark":{"type":"rule","color":"#3c3c3c","strokeWidth":3},"encoding":{"y":{"field":"row","type":"nominal","bandPosition":0,"scale":{"type":"band","domain":["h1","h2","s1","s2","gap","total","het","test"],"paddingInner":0,"paddingOuter":0.7248,"align":0},"axis":null}}},
  {"transform":[{"filter":"datum.kind === 'study' || datum.kind === 'note'"}],"mark":{"type":"text","align":"left","dx":24,"fontSize":28.8},"encoding":{"x":{"value":0},"text":{"field":"study","type":"nominal"}}},
  {"transform":[{"filter":"datum.study != null && (datum.kind === 'header' || datum.kind === 'total')"}],"mark":{"type":"text","align":"left","dx":24,"fontWeight":"bold","fontSize":28.2},"encoding":{"x":{"value":0},"text":{"field":"study","type":"nominal"}}}]},
 {"width":366.5,"height":367.87,"data":{"name":"p4"},"encoding":{"y":{"field":"row","type":"nominal","scale":{"type":"band","domain":["h1","h2","s1","s2","gap","total","het","test"],"paddingInner":0,"paddingOuter":0.7248,"align":0},"axis":null}},"layer":[
  {"transform":[{"filter":"datum.row === 's1'"}],"mark":{"type":"rule","color":"#3c3c3c","strokeWidth":3},"encoding":{"y":{"field":"row","type":"nominal","bandPosition":0,"scale":{"type":"band","domain":["h1","h2","s1","s2","gap","total","het","test"],"paddingInner":0,"paddingOuter":0.7248,"align":0},"axis":null}}},
  {"transform":[{"filter":"datum.kind === 'study'"}],"mark":{"type":"text","align":"right","fontSize":28.8},"encoding":{"x":{"value":"width"},"text":{"field":"est","type":"quantitative","format":".1f"}}},
  {"transform":[{"filter":"datum.row === 'h2'"}],"mark":{"type":"text","align":"right","fontWeight":"bold","fontSize":28.2},"encoding":{"x":{"value":"width"},"text":{"field":"value","type":"nominal"}}}]},
 {"width":116,"height":367.87,"data":{"name":"p4"},"encoding":{"y":{"field":"row","type":"nominal","scale":{"type":"band","domain":["h1","h2","s1","s2","gap","total","het","test"],"paddingInner":0,"paddingOuter":0.7248,"align":0},"axis":null}},"layer":[
  {"transform":[{"filter":"datum.row === 's1'"}],"mark":{"type":"rule","color":"#3c3c3c","strokeWidth":3},"encoding":{"y":{"field":"row","type":"nominal","bandPosition":0,"scale":{"type":"band","domain":["h1","h2","s1","s2","gap","total","het","test"],"paddingInner":0,"paddingOuter":0.7248,"align":0},"axis":null}}},
  {"transform":[{"filter":"datum.kind === 'study'"}],"mark":{"type":"text","align":"right","fontSize":28.8},"encoding":{"x":{"value":"width"},"text":{"field":"se","type":"nominal"}}},
  {"transform":[{"filter":"datum.row === 'h2'"}],"mark":{"type":"text","align":"right","fontWeight":"bold","fontSize":28.2},"encoding":{"x":{"value":"width"},"text":{"field":"se","type":"nominal"}}}]},
 {"width":120.1,"height":367.87,"data":{"name":"p4"},"encoding":{"y":{"field":"row","type":"nominal","scale":{"type":"band","domain":["h1","h2","s1","s2","gap","total","het","test"],"paddingInner":0,"paddingOuter":0.7248,"align":0},"axis":null}},"layer":[
  {"transform":[{"filter":"datum.row === 's1'"}],"mark":{"type":"rule","color":"#3c3c3c","strokeWidth":3},"encoding":{"y":{"field":"row","type":"nominal","bandPosition":0,"scale":{"type":"band","domain":["h1","h2","s1","s2","gap","total","het","test"],"paddingInner":0,"paddingOuter":0.7248,"align":0},"axis":null}}},
  {"transform":[{"filter":"datum.kind === 'study'"}],"mark":{"type":"text","align":"right","fontSize":28.8},"encoding":{"x":{"value":"width"},"text":{"field":"w","type":"quantitative","format":".1%"}}},
  {"transform":[{"filter":"datum.row === 'h2'"}],"mark":{"type":"text","align":"right","fontWeight":"bold","fontSize":28.2},"encoding":{"x":{"value":"width"},"text":{"field":"weight","type":"nominal"}}},
  {"transform":[{"filter":"datum.kind === 'total'"}],"mark":{"type":"text","align":"right","fontWeight":"bold","fontSize":28.2},"encoding":{"x":{"value":"width"},"text":{"field":"w","type":"quantitative","format":".1%"}}}]},
 {"width":368.3,"height":367.87,"data":{"name":"p4"},"encoding":{"y":{"field":"row","type":"nominal","scale":{"type":"band","domain":["h1","h2","s1","s2","gap","total","het","test"],"paddingInner":0,"paddingOuter":0.7248,"align":0},"axis":null}},"layer":[
  {"transform":[{"filter":"datum.row === 's1'"}],"mark":{"type":"rule","color":"#3c3c3c","strokeWidth":3},"encoding":{"y":{"field":"row","type":"nominal","bandPosition":0,"scale":{"type":"band","domain":["h1","h2","s1","s2","gap","total","het","test"],"paddingInner":0,"paddingOuter":0.7248,"align":0},"axis":null}}},
  {"transform":[{"filter":"datum.kind === 'study'"}],"mark":{"type":"text","align":"right","fontSize":28.8},"encoding":{"x":{"value":"width"},"text":{"field":"ci","type":"nominal"}}},
  {"transform":[{"filter":"datum.row === 'h2' || datum.kind === 'total'"}],"mark":{"type":"text","align":"right","fontWeight":"bold","fontSize":28.2},"encoding":{"x":{"value":"width"},"text":{"field":"ci","type":"nominal"}}},
  {"transform":[{"filter":"datum.row === 'h1'"}],"mark":{"type":"text","align":"center","fontWeight":"bold","fontSize":28.2},"encoding":{"text":{"field":"ci","type":"nominal"}}}]},
 {"width":24.1,"height":367.87,"data":{"name":"p4"},"transform":[{"filter":"datum.row === 's1'"}],"mark":{"type":"rule","color":"#3c3c3c","strokeWidth":3},"encoding":{"y":{"field":"row","type":"nominal","bandPosition":0,"scale":{"type":"band","domain":["h1","h2","s1","s2","gap","total","het","test"],"paddingInner":0,"paddingOuter":0.7248,"align":0},"axis":null}}},
 {"width":638,"height":246.5,"data":{"name":"p4"},"resolve":{"scale":{"yOffset":"independent"}},"encoding":{"y":{"field":"row","type":"nominal","scale":{"type":"band","domain":["h1","h2","s1","s2","gap","total"],"paddingInner":0,"paddingOuter":0.1655,"align":0},"axis":null}},"layer":[
  {"transform":[{"filter":"datum.row === 's1'"}],"mark":{"type":"rule","color":"#3c3c3c","strokeWidth":3},"encoding":{"y":{"field":"row","type":"nominal","bandPosition":0}}},
  {"transform":[{"filter":"datum.row === 's1'"}],"mark":{"type":"rule","color":"#222","strokeWidth":1.5},"encoding":{"x":{"datum":0,"type":"quantitative","scale":{"domain":[-100,100],"nice":false},"axis":{"labelExpr":"replace(datum.label, '−', '-')","labelFontSize":28.8,"domain":false,"offset":-10,"tickSize":20}},"y":{"field":"row","type":"nominal","bandPosition":0},"y2":{"value":"height"}}},
  {"transform":[{"filter":"datum.row === 's1'"}],"mark":{"type":"rule","color":"#222","strokeWidth":2.5},"encoding":{"x":{"datum":-100,"type":"quantitative"},"x2":{"datum":100},"y":{"value":"height"}}},
  {"transform":[{"filter":"datum.kind === 'study'"}],"mark":{"type":"rule","color":"#222","strokeWidth":2},"encoding":{"x":{"field":"lo","type":"quantitative","title":null},"x2":{"field":"hi"}}},
  {"transform":[{"filter":"datum.kind === 'study'"}],"mark":{"type":"point","shape":"square","filled":true,"color":"#c00000","stroke":"#7a0000","strokeWidth":1,"opacity":1},"encoding":{"x":{"field":"est","type":"quantitative","title":null},"size":{"field":"w","type":"quantitative","scale":{"type":"pow","exponent":2,"domain":[0,1],"range":[0,2200]},"legend":null}}},
  {"transform":[{"filter":"datum.kind === 'total'"},{"fold":["lo","est"],"as":["key","v"]}],"mark":{"type":"area","color":"#000","opacity":1},"encoding":{"x":{"field":"v","type":"quantitative","title":null},"yOffset":{"field":"key","type":"nominal","scale":{"domain":["est","lo","hi"],"paddingInner":0.5,"paddingOuter":0}},"y2":{"field":"row"}}},
  {"transform":[{"filter":"datum.kind === 'total'"},{"fold":["est","hi"],"as":["key","v"]}],"mark":{"type":"area","color":"#000","opacity":1},"encoding":{"x":{"field":"v","type":"quantitative","title":null},"yOffset":{"field":"key","type":"nominal","scale":{"domain":["est","hi","lo"],"paddingInner":0.5,"paddingOuter":0}},"y2":{"field":"row"}}},
  {"transform":[{"filter":"datum.kind === 'total'"},{"fold":["lo","est"],"as":["key","v"]}],"mark":{"type":"area","color":"#000","opacity":1},"encoding":{"x":{"field":"v","type":"quantitative","title":null},"yOffset":{"field":"key","type":"nominal","scale":{"domain":["hi","lo","est"],"paddingInner":0.5,"paddingOuter":0}},"y2":{"field":"row"}}},
  {"transform":[{"filter":"datum.kind === 'total'"},{"fold":["est","hi"],"as":["key","v"]}],"mark":{"type":"area","color":"#000","opacity":1},"encoding":{"x":{"field":"v","type":"quantitative","title":null},"yOffset":{"field":"key","type":"nominal","scale":{"domain":["lo","hi","est"],"paddingInner":0.5,"paddingOuter":0}},"y2":{"field":"row"}}},
  {"transform":[{"filter":"datum.kind === 'header'"}],"mark":{"type":"text","fontWeight":"bold","fontSize":28.2},"encoding":{"text":{"field":"ci","type":"nominal"}}}]},
 {"width":26,"height":367.87,"data":{"name":"p4"},"transform":[{"filter":"datum.row === 's1'"}],"mark":{"type":"rule","color":"#3c3c3c","strokeWidth":3},"encoding":{"y":{"field":"row","type":"nominal","bandPosition":0,"scale":{"type":"band","domain":["h1","h2","s1","s2","gap","total","het","test"],"paddingInner":0,"paddingOuter":0.7248,"align":0},"axis":null}}}
]},
{"spacing":0,"bounds":"flush","hconcat":[
 {"width":300,"height":370.65,"data":{"name":"p5"},"encoding":{"y":{"field":"row","type":"nominal","scale":{"type":"band","domain":["h1","h2","s1","s2","gap","total","het","test"],"paddingInner":0,"paddingOuter":0.693,"align":0},"axis":null}},"layer":[
  {"transform":[{"filter":"datum.row === 's1'"}],"mark":{"type":"rule","color":"#3c3c3c","strokeWidth":3},"encoding":{"y":{"field":"row","type":"nominal","bandPosition":0,"scale":{"type":"band","domain":["h1","h2","s1","s2","gap","total","het","test"],"paddingInner":0,"paddingOuter":0.693,"align":0},"axis":null}}},
  {"transform":[{"filter":"datum.kind === 'study' || datum.kind === 'note'"}],"mark":{"type":"text","align":"left","dx":24,"fontSize":29.3},"encoding":{"x":{"value":0},"text":{"field":"study","type":"nominal"}}},
  {"transform":[{"filter":"datum.study != null && (datum.kind === 'header' || datum.kind === 'total')"}],"mark":{"type":"text","align":"left","dx":24,"fontWeight":"bold","fontSize":28.7},"encoding":{"x":{"value":0},"text":{"field":"study","type":"nominal"}}}]},
 {"width":361.1,"height":370.65,"data":{"name":"p5"},"encoding":{"y":{"field":"row","type":"nominal","scale":{"type":"band","domain":["h1","h2","s1","s2","gap","total","het","test"],"paddingInner":0,"paddingOuter":0.693,"align":0},"axis":null}},"layer":[
  {"transform":[{"filter":"datum.row === 's1'"}],"mark":{"type":"rule","color":"#3c3c3c","strokeWidth":3},"encoding":{"y":{"field":"row","type":"nominal","bandPosition":0,"scale":{"type":"band","domain":["h1","h2","s1","s2","gap","total","het","test"],"paddingInner":0,"paddingOuter":0.693,"align":0},"axis":null}}},
  {"transform":[{"filter":"datum.kind === 'study'"}],"mark":{"type":"text","align":"right","fontSize":29.3},"encoding":{"x":{"value":"width"},"text":{"field":"est","type":"quantitative","format":".1f"}}},
  {"transform":[{"filter":"datum.row === 'h2'"}],"mark":{"type":"text","align":"right","fontWeight":"bold","fontSize":28.7},"encoding":{"x":{"value":"width"},"text":{"field":"value","type":"nominal"}}}]},
 {"width":117.4,"height":370.65,"data":{"name":"p5"},"encoding":{"y":{"field":"row","type":"nominal","scale":{"type":"band","domain":["h1","h2","s1","s2","gap","total","het","test"],"paddingInner":0,"paddingOuter":0.693,"align":0},"axis":null}},"layer":[
  {"transform":[{"filter":"datum.row === 's1'"}],"mark":{"type":"rule","color":"#3c3c3c","strokeWidth":3},"encoding":{"y":{"field":"row","type":"nominal","bandPosition":0,"scale":{"type":"band","domain":["h1","h2","s1","s2","gap","total","het","test"],"paddingInner":0,"paddingOuter":0.693,"align":0},"axis":null}}},
  {"transform":[{"filter":"datum.kind === 'study'"}],"mark":{"type":"text","align":"right","fontSize":29.3},"encoding":{"x":{"value":"width"},"text":{"field":"se","type":"nominal"}}},
  {"transform":[{"filter":"datum.row === 'h2'"}],"mark":{"type":"text","align":"right","fontWeight":"bold","fontSize":28.7},"encoding":{"x":{"value":"width"},"text":{"field":"se","type":"nominal"}}}]},
 {"width":122.8,"height":370.65,"data":{"name":"p5"},"encoding":{"y":{"field":"row","type":"nominal","scale":{"type":"band","domain":["h1","h2","s1","s2","gap","total","het","test"],"paddingInner":0,"paddingOuter":0.693,"align":0},"axis":null}},"layer":[
  {"transform":[{"filter":"datum.row === 's1'"}],"mark":{"type":"rule","color":"#3c3c3c","strokeWidth":3},"encoding":{"y":{"field":"row","type":"nominal","bandPosition":0,"scale":{"type":"band","domain":["h1","h2","s1","s2","gap","total","het","test"],"paddingInner":0,"paddingOuter":0.693,"align":0},"axis":null}}},
  {"transform":[{"filter":"datum.kind === 'study'"}],"mark":{"type":"text","align":"right","fontSize":29.3},"encoding":{"x":{"value":"width"},"text":{"field":"w","type":"quantitative","format":".1%"}}},
  {"transform":[{"filter":"datum.row === 'h2'"}],"mark":{"type":"text","align":"right","fontWeight":"bold","fontSize":28.7},"encoding":{"x":{"value":"width"},"text":{"field":"weight","type":"nominal"}}},
  {"transform":[{"filter":"datum.kind === 'total'"}],"mark":{"type":"text","align":"right","fontWeight":"bold","fontSize":28.7},"encoding":{"x":{"value":"width"},"text":{"field":"w","type":"quantitative","format":".1%"}}}]},
 {"width":356.2,"height":370.65,"data":{"name":"p5"},"encoding":{"y":{"field":"row","type":"nominal","scale":{"type":"band","domain":["h1","h2","s1","s2","gap","total","het","test"],"paddingInner":0,"paddingOuter":0.693,"align":0},"axis":null}},"layer":[
  {"transform":[{"filter":"datum.row === 's1'"}],"mark":{"type":"rule","color":"#3c3c3c","strokeWidth":3},"encoding":{"y":{"field":"row","type":"nominal","bandPosition":0,"scale":{"type":"band","domain":["h1","h2","s1","s2","gap","total","het","test"],"paddingInner":0,"paddingOuter":0.693,"align":0},"axis":null}}},
  {"transform":[{"filter":"datum.kind === 'study'"}],"mark":{"type":"text","align":"right","fontSize":29.3},"encoding":{"x":{"value":"width"},"text":{"field":"ci","type":"nominal"}}},
  {"transform":[{"filter":"datum.row === 'h2' || datum.kind === 'total'"}],"mark":{"type":"text","align":"right","fontWeight":"bold","fontSize":28.7},"encoding":{"x":{"value":"width"},"text":{"field":"ci","type":"nominal"}}},
  {"transform":[{"filter":"datum.row === 'h1'"}],"mark":{"type":"text","align":"center","fontWeight":"bold","fontSize":28.7},"encoding":{"text":{"field":"ci","type":"nominal"}}}]},
 {"width":25.5,"height":370.65,"data":{"name":"p5"},"transform":[{"filter":"datum.row === 's1'"}],"mark":{"type":"rule","color":"#3c3c3c","strokeWidth":3},"encoding":{"y":{"field":"row","type":"nominal","bandPosition":0,"scale":{"type":"band","domain":["h1","h2","s1","s2","gap","total","het","test"],"paddingInner":0,"paddingOuter":0.693,"align":0},"axis":null}}},
 {"width":650,"height":249.6,"data":{"name":"p5"},"resolve":{"scale":{"yOffset":"independent"}},"encoding":{"y":{"field":"row","type":"nominal","scale":{"type":"band","domain":["h1","h2","s1","s2","gap","total"],"paddingInner":0,"paddingOuter":0.16,"align":0},"axis":null}},"layer":[
  {"transform":[{"filter":"datum.row === 's1'"}],"mark":{"type":"rule","color":"#3c3c3c","strokeWidth":3},"encoding":{"y":{"field":"row","type":"nominal","bandPosition":0}}},
  {"transform":[{"filter":"datum.row === 's1'"}],"mark":{"type":"rule","color":"#222","strokeWidth":1.5},"encoding":{"x":{"datum":0,"type":"quantitative","scale":{"domain":[-100,100],"nice":false},"axis":{"labelExpr":"replace(datum.label, '−', '-')","labelFontSize":29.3,"domain":false,"offset":-10,"tickSize":20}},"y":{"field":"row","type":"nominal","bandPosition":0},"y2":{"value":"height"}}},
  {"transform":[{"filter":"datum.row === 's1'"}],"mark":{"type":"rule","color":"#222","strokeWidth":2.5},"encoding":{"x":{"datum":-100,"type":"quantitative"},"x2":{"datum":100},"y":{"value":"height"}}},
  {"transform":[{"filter":"datum.kind === 'study'"}],"mark":{"type":"rule","color":"#222","strokeWidth":2},"encoding":{"x":{"field":"lo","type":"quantitative","title":null},"x2":{"field":"hi"}}},
  {"transform":[{"filter":"datum.kind === 'study'"}],"mark":{"type":"point","shape":"square","filled":true,"color":"#c00000","stroke":"#7a0000","strokeWidth":1,"opacity":1},"encoding":{"x":{"field":"est","type":"quantitative","title":null},"size":{"field":"w","type":"quantitative","scale":{"type":"pow","exponent":2,"domain":[0,1],"range":[0,2300]},"legend":null}}},
  {"transform":[{"filter":"datum.kind === 'total'"},{"fold":["lo","est"],"as":["key","v"]}],"mark":{"type":"area","color":"#000","opacity":1},"encoding":{"x":{"field":"v","type":"quantitative","title":null},"yOffset":{"field":"key","type":"nominal","scale":{"domain":["est","lo","hi"],"paddingInner":0.5,"paddingOuter":0}},"y2":{"field":"row"}}},
  {"transform":[{"filter":"datum.kind === 'total'"},{"fold":["est","hi"],"as":["key","v"]}],"mark":{"type":"area","color":"#000","opacity":1},"encoding":{"x":{"field":"v","type":"quantitative","title":null},"yOffset":{"field":"key","type":"nominal","scale":{"domain":["est","hi","lo"],"paddingInner":0.5,"paddingOuter":0}},"y2":{"field":"row"}}},
  {"transform":[{"filter":"datum.kind === 'total'"},{"fold":["lo","est"],"as":["key","v"]}],"mark":{"type":"area","color":"#000","opacity":1},"encoding":{"x":{"field":"v","type":"quantitative","title":null},"yOffset":{"field":"key","type":"nominal","scale":{"domain":["hi","lo","est"],"paddingInner":0.5,"paddingOuter":0}},"y2":{"field":"row"}}},
  {"transform":[{"filter":"datum.kind === 'total'"},{"fold":["est","hi"],"as":["key","v"]}],"mark":{"type":"area","color":"#000","opacity":1},"encoding":{"x":{"field":"v","type":"quantitative","title":null},"yOffset":{"field":"key","type":"nominal","scale":{"domain":["lo","hi","est"],"paddingInner":0.5,"paddingOuter":0}},"y2":{"field":"row"}}},
  {"transform":[{"filter":"datum.kind === 'header'"}],"mark":{"type":"text","fontWeight":"bold","fontSize":28.7},"encoding":{"text":{"field":"ci","type":"nominal"}}}]},
 {"width":26,"height":370.65,"data":{"name":"p5"},"transform":[{"filter":"datum.row === 's1'"}],"mark":{"type":"rule","color":"#3c3c3c","strokeWidth":3},"encoding":{"y":{"field":"row","type":"nominal","bandPosition":0,"scale":{"type":"band","domain":["h1","h2","s1","s2","gap","total","het","test"],"paddingInner":0,"paddingOuter":0.693,"align":0},"axis":null}}}
]},
{"spacing":0,"bounds":"flush","hconcat":[
 {"width":300,"height":305.6,"data":{"name":"p6"},"encoding":{"y":{"field":"row","type":"nominal","scale":{"type":"band","domain":["h1","h2","s1","s2","gap","total","het","test"],"paddingInner":0,"paddingOuter":0,"align":0},"axis":null}},"layer":[
  {"transform":[{"filter":"datum.row === 's1'"}],"mark":{"type":"rule","color":"#3c3c3c","strokeWidth":3},"encoding":{"y":{"field":"row","type":"nominal","bandPosition":0,"scale":{"type":"band","domain":["h1","h2","s1","s2","gap","total","het","test"],"paddingInner":0,"paddingOuter":0,"align":0},"axis":null}}},
  {"transform":[{"filter":"datum.kind === 'study' || datum.kind === 'note'"}],"mark":{"type":"text","align":"left","dx":24,"fontSize":28.2},"encoding":{"x":{"value":0},"text":{"field":"study","type":"nominal"}}},
  {"transform":[{"filter":"datum.study != null && (datum.kind === 'header' || datum.kind === 'total')"}],"mark":{"type":"text","align":"left","dx":24,"fontWeight":"bold","fontSize":27.6},"encoding":{"x":{"value":0},"text":{"field":"study","type":"nominal"}}}]},
 {"width":373.2,"height":305.6,"data":{"name":"p6"},"encoding":{"y":{"field":"row","type":"nominal","scale":{"type":"band","domain":["h1","h2","s1","s2","gap","total","het","test"],"paddingInner":0,"paddingOuter":0,"align":0},"axis":null}},"layer":[
  {"transform":[{"filter":"datum.row === 's1'"}],"mark":{"type":"rule","color":"#3c3c3c","strokeWidth":3},"encoding":{"y":{"field":"row","type":"nominal","bandPosition":0,"scale":{"type":"band","domain":["h1","h2","s1","s2","gap","total","het","test"],"paddingInner":0,"paddingOuter":0,"align":0},"axis":null}}},
  {"transform":[{"filter":"datum.kind === 'study'"}],"mark":{"type":"text","align":"right","fontSize":28.2},"encoding":{"x":{"value":"width"},"text":{"field":"est","type":"quantitative","format":".1f"}}},
  {"transform":[{"filter":"datum.row === 'h2'"}],"mark":{"type":"text","align":"right","fontWeight":"bold","fontSize":27.6},"encoding":{"x":{"value":"width"},"text":{"field":"value","type":"nominal"}}}]},
 {"width":112,"height":305.6,"data":{"name":"p6"},"encoding":{"y":{"field":"row","type":"nominal","scale":{"type":"band","domain":["h1","h2","s1","s2","gap","total","het","test"],"paddingInner":0,"paddingOuter":0,"align":0},"axis":null}},"layer":[
  {"transform":[{"filter":"datum.row === 's1'"}],"mark":{"type":"rule","color":"#3c3c3c","strokeWidth":3},"encoding":{"y":{"field":"row","type":"nominal","bandPosition":0,"scale":{"type":"band","domain":["h1","h2","s1","s2","gap","total","het","test"],"paddingInner":0,"paddingOuter":0,"align":0},"axis":null}}},
  {"transform":[{"filter":"datum.kind === 'study'"}],"mark":{"type":"text","align":"right","fontSize":28.2},"encoding":{"x":{"value":"width"},"text":{"field":"se","type":"nominal"}}},
  {"transform":[{"filter":"datum.row === 'h2'"}],"mark":{"type":"text","align":"right","fontWeight":"bold","fontSize":27.6},"encoding":{"x":{"value":"width"},"text":{"field":"se","type":"nominal"}}}]},
 {"width":120.1,"height":305.6,"data":{"name":"p6"},"encoding":{"y":{"field":"row","type":"nominal","scale":{"type":"band","domain":["h1","h2","s1","s2","gap","total","het","test"],"paddingInner":0,"paddingOuter":0,"align":0},"axis":null}},"layer":[
  {"transform":[{"filter":"datum.row === 's1'"}],"mark":{"type":"rule","color":"#3c3c3c","strokeWidth":3},"encoding":{"y":{"field":"row","type":"nominal","bandPosition":0,"scale":{"type":"band","domain":["h1","h2","s1","s2","gap","total","het","test"],"paddingInner":0,"paddingOuter":0,"align":0},"axis":null}}},
  {"transform":[{"filter":"datum.kind === 'study'"}],"mark":{"type":"text","align":"right","fontSize":28.2},"encoding":{"x":{"value":"width"},"text":{"field":"w","type":"quantitative","format":".1%"}}},
  {"transform":[{"filter":"datum.row === 'h2'"}],"mark":{"type":"text","align":"right","fontWeight":"bold","fontSize":27.6},"encoding":{"x":{"value":"width"},"text":{"field":"weight","type":"nominal"}}},
  {"transform":[{"filter":"datum.kind === 'total'"}],"mark":{"type":"text","align":"right","fontWeight":"bold","fontSize":27.6},"encoding":{"x":{"value":"width"},"text":{"field":"w","type":"quantitative","format":".1%"}}}]},
 {"width":377.8,"height":305.6,"data":{"name":"p6"},"encoding":{"y":{"field":"row","type":"nominal","scale":{"type":"band","domain":["h1","h2","s1","s2","gap","total","het","test"],"paddingInner":0,"paddingOuter":0,"align":0},"axis":null}},"layer":[
  {"transform":[{"filter":"datum.row === 's1'"}],"mark":{"type":"rule","color":"#3c3c3c","strokeWidth":3},"encoding":{"y":{"field":"row","type":"nominal","bandPosition":0,"scale":{"type":"band","domain":["h1","h2","s1","s2","gap","total","het","test"],"paddingInner":0,"paddingOuter":0,"align":0},"axis":null}}},
  {"transform":[{"filter":"datum.kind === 'study'"}],"mark":{"type":"text","align":"right","fontSize":28.2},"encoding":{"x":{"value":"width"},"text":{"field":"ci","type":"nominal"}}},
  {"transform":[{"filter":"datum.row === 'h2' || datum.kind === 'total'"}],"mark":{"type":"text","align":"right","fontWeight":"bold","fontSize":27.6},"encoding":{"x":{"value":"width"},"text":{"field":"ci","type":"nominal"}}},
  {"transform":[{"filter":"datum.row === 'h1'"}],"mark":{"type":"text","align":"center","fontWeight":"bold","fontSize":27.6},"encoding":{"text":{"field":"ci","type":"nominal"}}}]},
 {"width":25.6,"height":305.6,"data":{"name":"p6"},"transform":[{"filter":"datum.row === 's1'"}],"mark":{"type":"rule","color":"#3c3c3c","strokeWidth":3},"encoding":{"y":{"field":"row","type":"nominal","bandPosition":0,"scale":{"type":"band","domain":["h1","h2","s1","s2","gap","total","het","test"],"paddingInner":0,"paddingOuter":0,"align":0},"axis":null}}},
 {"width":624.3,"height":241.8,"data":{"name":"p6"},"resolve":{"scale":{"yOffset":"independent"}},"encoding":{"y":{"field":"row","type":"nominal","scale":{"type":"band","domain":["h1","h2","s1","s2","gap","total"],"paddingInner":0,"paddingOuter":0.1655,"align":0},"axis":null}},"layer":[
  {"transform":[{"filter":"datum.row === 's1'"}],"mark":{"type":"rule","color":"#3c3c3c","strokeWidth":3},"encoding":{"y":{"field":"row","type":"nominal","bandPosition":0}}},
  {"transform":[{"filter":"datum.row === 's1'"}],"mark":{"type":"rule","color":"#222","strokeWidth":1.5},"encoding":{"x":{"datum":0,"type":"quantitative","scale":{"domain":[-100,100],"nice":false},"axis":{"labelExpr":"replace(datum.label, '−', '-')","labelFontSize":28.2,"domain":false,"offset":-10,"tickSize":20}},"y":{"field":"row","type":"nominal","bandPosition":0},"y2":{"value":"height"}}},
  {"transform":[{"filter":"datum.row === 's1'"}],"mark":{"type":"rule","color":"#222","strokeWidth":2.5},"encoding":{"x":{"datum":-100,"type":"quantitative"},"x2":{"datum":100},"y":{"value":"height"}}},
  {"transform":[{"filter":"datum.kind === 'study'"}],"mark":{"type":"rule","color":"#222","strokeWidth":2},"encoding":{"x":{"field":"lo","type":"quantitative","title":null},"x2":{"field":"hi"}}},
  {"transform":[{"filter":"datum.kind === 'study'"}],"mark":{"type":"point","shape":"square","filled":true,"color":"#c00000","stroke":"#7a0000","strokeWidth":1,"opacity":1},"encoding":{"x":{"field":"est","type":"quantitative","title":null},"size":{"field":"w","type":"quantitative","scale":{"type":"pow","exponent":2,"domain":[0,1],"range":[0,2200]},"legend":null}}},
  {"transform":[{"filter":"datum.kind === 'total'"},{"fold":["lo","est"],"as":["key","v"]}],"mark":{"type":"area","color":"#000","opacity":1},"encoding":{"x":{"field":"v","type":"quantitative","title":null},"yOffset":{"field":"key","type":"nominal","scale":{"domain":["est","lo","hi"],"paddingInner":0.5,"paddingOuter":0}},"y2":{"field":"row"}}},
  {"transform":[{"filter":"datum.kind === 'total'"},{"fold":["est","hi"],"as":["key","v"]}],"mark":{"type":"area","color":"#000","opacity":1},"encoding":{"x":{"field":"v","type":"quantitative","title":null},"yOffset":{"field":"key","type":"nominal","scale":{"domain":["est","hi","lo"],"paddingInner":0.5,"paddingOuter":0}},"y2":{"field":"row"}}},
  {"transform":[{"filter":"datum.kind === 'total'"},{"fold":["lo","est"],"as":["key","v"]}],"mark":{"type":"area","color":"#000","opacity":1},"encoding":{"x":{"field":"v","type":"quantitative","title":null},"yOffset":{"field":"key","type":"nominal","scale":{"domain":["hi","lo","est"],"paddingInner":0.5,"paddingOuter":0}},"y2":{"field":"row"}}},
  {"transform":[{"filter":"datum.kind === 'total'"},{"fold":["est","hi"],"as":["key","v"]}],"mark":{"type":"area","color":"#000","opacity":1},"encoding":{"x":{"field":"v","type":"quantitative","title":null},"yOffset":{"field":"key","type":"nominal","scale":{"domain":["lo","hi","est"],"paddingInner":0.5,"paddingOuter":0}},"y2":{"field":"row"}}},
  {"transform":[{"filter":"datum.kind === 'header'"}],"mark":{"type":"text","fontWeight":"bold","fontSize":27.6},"encoding":{"text":{"field":"ci","type":"nominal"}}}]},
 {"width":26,"height":305.6,"data":{"name":"p6"},"transform":[{"filter":"datum.row === 's1'"}],"mark":{"type":"rule","color":"#3c3c3c","strokeWidth":3},"encoding":{"y":{"field":"row","type":"nominal","bandPosition":0,"scale":{"type":"band","domain":["h1","h2","s1","s2","gap","total","het","test"],"paddingInner":0,"paddingOuter":0,"align":0},"axis":null}}}
]}
]
}
